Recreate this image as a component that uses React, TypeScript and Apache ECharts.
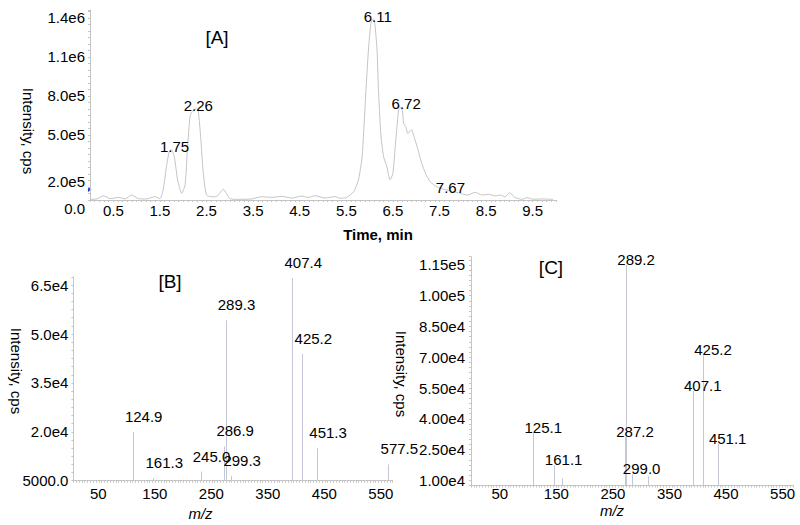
import React, { useEffect, useRef } from "react";
import * as echarts from "echarts";

// ---------- Panel A: chromatogram ----------
const chromTime = [
  0.0, 0.15, 0.29, 0.43, 0.61, 0.75, 0.89, 1.04, 1.21, 1.39, 1.5, 1.57, 1.64, 1.7, 1.75, 1.81, 1.88, 1.97,
  2.04, 2.09, 2.15, 2.22, 2.27, 2.32, 2.38, 2.43, 2.5, 2.61, 2.72, 2.79, 2.86, 2.93, 3.0, 3.18, 3.47, 3.68,
  3.9, 4.11, 4.33, 4.54, 4.68, 4.83, 5.04, 5.26, 5.37, 5.51, 5.66, 5.76, 5.84, 5.91, 5.98, 6.03, 6.07, 6.11,
  6.16, 6.19, 6.24, 6.3, 6.37, 6.44, 6.5, 6.55, 6.6, 6.64, 6.7, 6.73, 6.78, 6.82, 6.9, 6.94, 7.02, 7.12,
  7.2, 7.3, 7.45, 7.59, 7.73, 7.95, 8.09, 8.27, 8.41, 8.55, 8.7, 8.8, 8.91, 9.0, 9.12, 9.27, 9.38, 9.52,
  9.66, 9.94,
];
const chromIntensity = [
  5000, 8000, 33000, 10000, 20000, 8000, 38000, 10000, 8000, 26000, 10000, 77000, 256000, 370000, 385000,
  330000, 154000, 51000, 115000, 385000, 650000, 690000, 700000, 690000, 460000, 210000, 38000, 25000,
  27000, 56000, 82000, 50000, 10000, 5000, 8000, 25000, 20000, 28000, 15000, 30000, 20000, 33000, 15000,
  26000, 13000, 20000, 64000, 154000, 333000, 770000, 1180000, 1360000, 1390000, 1360000, 1150000,
  850000, 510000, 333000, 256000, 154000, 205000, 410000, 615000, 720000, 690000, 590000, 560000, 510000,
  540000, 500000, 410000, 280000, 205000, 140000, 100000, 82000, 72000, 51000, 38000, 59000, 38000,
  44000, 31000, 38000, 25000, 56000, 20000, 5000, 18000, 5000, 8000, 5000,
];
const peakTimesA = [1.75, 2.26, 6.11, 6.72, 7.67];
const peakIntensA = [385000, 700000, 1390000, 720000, 75000];
const yTicksA = [0, 200000, 500000, 800000, 1100000, 1400000];
const yTickTextA = ["0.0", "2.0e5", "5.0e5", "8.0e5", "1.1e6", "1.4e6"];
const xTicksA = [0.5, 1.5, 2.5, 3.5, 4.5, 5.5, 6.5, 7.5, 8.5, 9.5];

// ---------- Panel B: spectrum ----------
const mzB = [124.9, 161.3, 245.0, 286.9, 289.3, 299.3, 407.4, 425.2, 451.3, 577.5];
const intB = [20000, 5800, 7800, 15500, 54200, 6500, 67200, 43900, 15000, 10000];
const yTicksB = [5000, 20000, 35000, 50000, 65000];
const yTickTextB = ["5000.0", "2.0e4", "3.5e4", "5.0e4", "6.5e4"];

// ---------- Panel C: spectrum ----------
const mzC = [125.1, 161.1, 287.2, 289.2, 299.0, 407.1, 425.2, 451.1];
const intC = [33100, 17300, 31200, 115000, 12900, 53600, 71000, 27800];
const mzCMinor = [175.4, 328.0];
const intCMinor = [11000, 12000];
const yTicksC = [10000, 25000, 40000, 55000, 70000, 85000, 100000, 115000];
const yTickTextC = ["1.00e4", "2.50e4", "4.00e4", "5.50e4", "7.00e4", "8.50e4", "1.00e5", "1.15e5"];

const xTicksMz = [50, 150, 250, 350, 450, 550];

const FONT = "'Liberation Sans', Arial, Helvetica, sans-serif";
const TXT = "#000000";
const AXC = "#c4c4c4";
const LINEC = "#c4c4c4";
const STICKC = "#c6c7d6";

function findIdx(list: number[], v: number) {
  for (let i = 0; i < list.length; i++) {
    if (Math.abs(list[i] - v) < 1e-6 * Math.max(1, Math.abs(list[i]))) return i;
  }
  return -1;
}

const axisCommon = {
  axisLine: { show: true, onZero: false, lineStyle: { color: AXC, width: 1 } },
  axisTick: { show: true, length: 2, lineStyle: { color: AXC } },
  splitLine: { show: false },
};

export default function App() {
  const ref = useRef<HTMLDivElement>(null);

  useEffect(() => {
    if (!ref.current) return;
    const chart = echarts.init(ref.current, undefined, { renderer: "svg" });

    const BMIN = 5000;
    const CMIN = 7500;

    const stickSeries = (axisIdx: number, mz: number[], inten: number[], yMin: number) => ({
      type: "custom",
      xAxisIndex: axisIdx,
      yAxisIndex: axisIdx,
      clip: true,
      data: mz.map((m, i) => [m, inten[i]]),
      renderItem: (params: any, api: any) => {
        const base = api.coord([api.value(0), yMin]);
        const top = api.coord([api.value(0), api.value(1)]);
        const x = Math.round(top[0]) + 0.5;
        return {
          type: "line",
          shape: { x1: x, y1: base[1], x2: x, y2: top[1] },
          style: { stroke: STICKC, lineWidth: 1 },
        };
      },
    });

    const labelSeries = (axisIdx: number, xs: number[], ys: number[], digits: number, label: any) => ({
      type: "scatter",
      xAxisIndex: axisIdx,
      yAxisIndex: axisIdx,
      symbolSize: 1,
      itemStyle: { color: "rgba(0,0,0,0)" },
      emphasis: { disabled: true },
      z: 5,
      data: xs.map((x, i) => [x, ys[i]]),
      label: {
        show: true,
        formatter: (p: any) => Number(p.value[0]).toFixed(digits),
        fontSize: 15,
        fontFamily: FONT,
        color: TXT,
        opacity: 1,
        textBorderWidth: 0,
        ...label,
      },
    });

    const option: any = {
      animation: false,
      backgroundColor: "#ffffff",
      grid: [
        { left: 90, top: 10, width: 466, height: 190, containLabel: false, outerBoundsMode: "none" },
        { left: 73.4, top: 277, width: 319.2, height: 203.7, containLabel: false, outerBoundsMode: "none" },
        { left: 471, top: 256.7, width: 322.4, height: 228.8, containLabel: false, outerBoundsMode: "none" },
      ],
      xAxis: [
        {
          gridIndex: 0,
          type: "value",
          min: 0,
          max: 10,
          interval: 0.5,
          ...axisCommon,
          minorTick: { show: true, splitNumber: 5, length: 2, lineStyle: { color: AXC } },
          axisLabel: {
            fontSize: 15,
            fontFamily: FONT,
            color: TXT,
            margin: 3,
            formatter: (v: number) => (findIdx(xTicksA, v) >= 0 ? v.toFixed(1) : ""),
          },
        },
        {
          gridIndex: 1,
          type: "value",
          min: 20,
          max: 585,
          interval: 5,
          ...axisCommon,
          axisLabel: {
            fontSize: 15,
            fontFamily: FONT,
            color: TXT,
            margin: 5,
            padding: [0, 0, 0, 16],
            formatter: (v: number) => (findIdx(xTicksMz, v) >= 0 ? String(v) : ""),
          },
        },
        {
          gridIndex: 2,
          type: "value",
          min: 15,
          max: 585,
          interval: 5,
          ...axisCommon,
          axisLabel: {
            fontSize: 15,
            fontFamily: FONT,
            color: TXT,
            margin: 0,
            padding: [0, 0, 0, 18],
            formatter: (v: number) => (findIdx(xTicksMz, v) >= 0 ? String(v) : ""),
          },
        },
      ],
      yAxis: [
        {
          gridIndex: 0,
          type: "value",
          min: 0,
          max: 1460000,
          interval: 50000,
          ...axisCommon,
          axisLabel: {
            fontSize: 15,
            fontFamily: FONT,
            color: TXT,
            margin: 5,
            lineHeight: 16,
            formatter: (v: number) => {
              const i = findIdx(yTicksA, v);
              if (i < 0) return "";
              return i <= 1 ? "\n" + yTickTextA[i] : yTickTextA[i];
            },
          },
        },
        {
          gridIndex: 1,
          type: "value",
          min: BMIN,
          max: 67500,
          interval: 2500,
          ...axisCommon,
          axisLabel: {
            fontSize: 15,
            fontFamily: FONT,
            color: TXT,
            margin: 5,
            formatter: (v: number) => {
              const i = findIdx(yTicksB, v);
              return i < 0 ? "" : yTickTextB[i];
            },
          },
        },
        {
          gridIndex: 2,
          type: "value",
          min: CMIN,
          max: 119000,
          interval: 2500,
          ...axisCommon,
          axisLabel: {
            fontSize: 15,
            fontFamily: FONT,
            color: TXT,
            margin: 6,
            formatter: (v: number) => {
              const i = findIdx(yTicksC, v);
              return i < 0 ? "" : yTickTextC[i];
            },
          },
        },
      ],
      series: [
        {
          type: "line",
          xAxisIndex: 0,
          yAxisIndex: 0,
          showSymbol: false,
          symbol: "none",
          smooth: 0.2,
          lineStyle: { color: LINEC, width: 1 },
          data: chromTime.map((t, i) => [t, chromIntensity[i]]),
        },
        labelSeries(0, peakTimesA, peakIntensA, 2, { position: "inside", offset: [3, -3] }),
        stickSeries(1, mzB, intB, BMIN),
        labelSeries(1, mzB, intB, 1, { position: "top", distance: 0, offset: [11, -7.5] }),
        stickSeries(2, mzC, intC, CMIN),
        stickSeries(2, mzCMinor, intCMinor, CMIN),
        labelSeries(2, mzC, intC, 1, { position: "top", distance: 0, offset: [10, 2.5] }),
      ],
      graphic: [
        { type: "polygon", shape: { points: [[88, 187], [91.5, 189.5], [88, 192]] }, style: { fill: "#2a3fd0" } },
        { type: "text", x: 217, y: 37, style: { text: "[A]", font: `19px ${FONT}`, fill: TXT, align: "center", verticalAlign: "middle" } },
        { type: "text", x: 170, y: 281, style: { text: "[B]", font: `19px ${FONT}`, fill: TXT, align: "center", verticalAlign: "middle" } },
        { type: "text", x: 551, y: 267, style: { text: "[C]", font: `19px ${FONT}`, fill: TXT, align: "center", verticalAlign: "middle" } },
        { type: "text", x: 378, y: 234, style: { text: "Time, min", font: `bold 15px ${FONT}`, fill: TXT, align: "center", verticalAlign: "middle" } },
        { type: "text", x: 28.5, y: 131, rotation: -Math.PI / 2, style: { text: "Intensity, cps", font: `15px ${FONT}`, fill: TXT, align: "center", verticalAlign: "middle" } },
        { type: "text", x: 16, y: 371, rotation: -Math.PI / 2, style: { text: "Intensity, cps", font: `15px ${FONT}`, fill: TXT, align: "center", verticalAlign: "middle" } },
        { type: "text", x: 401, y: 374, rotation: -Math.PI / 2, style: { text: "Intensity, cps", font: `15px ${FONT}`, fill: TXT, align: "center", verticalAlign: "middle" } },
        { type: "text", x: 200.5, y: 513, style: { text: "m/z", font: `italic 15px ${FONT}`, fill: TXT, align: "center", verticalAlign: "middle" } },
        { type: "text", x: 612, y: 510, style: { text: "m/z", font: `italic 15px ${FONT}`, fill: TXT, align: "center", verticalAlign: "middle" } },
      ],
    };

    chart.setOption(option);
    return () => chart.dispose();
  }, []);

  return (
    <div
      ref={ref}
      style={{ position: "fixed", left: 0, top: 0, width: 800, height: 525, background: "#fff" }}
    />
  );
}
